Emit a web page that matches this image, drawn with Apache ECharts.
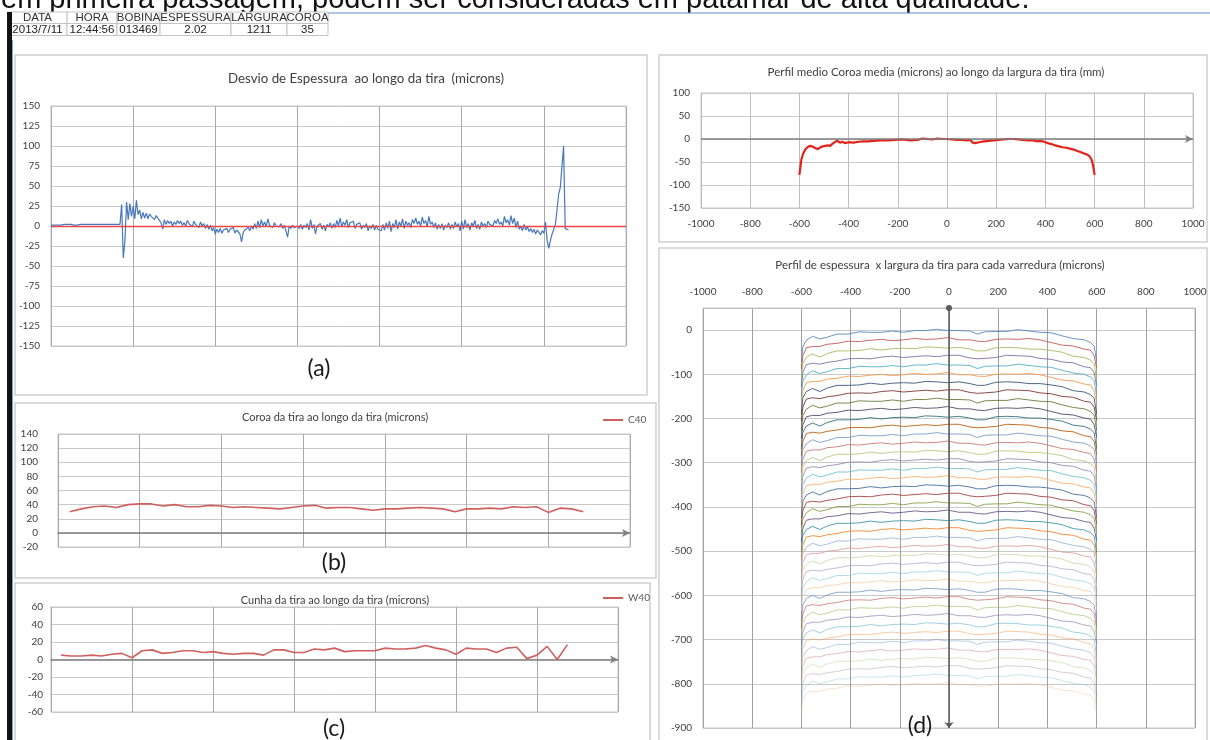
<!DOCTYPE html>
<html><head><meta charset="utf-8">
<script src="https://cdn.jsdelivr.net/npm/echarts@6/dist/echarts.min.js"></script>
<style>html,body{margin:0;padding:0;background:#fff;overflow:hidden}#c{width:1210px;height:740px}</style>
</head><body><div id="c"></div>
<script>
const topSentence = 'em primeira passagem, podem ser consideradas em patamar de alta qualidade.';
const headerLabels = ['DATA','HORA','BOBINA','ESPESSURA','LARGURA','COROA'];
const headerValues = ['2013/7/11','12:44:56','013469','2.02','1211','35'];

const titleA = 'Desvio de Espessura  ao longo da tira  (microns)';
const titleB = 'Coroa da tira ao longo da tira (microns)';
const titleC = 'Cunha da tira ao longo da tira (microns)';
const titleE = 'Perfil medio Coroa media (microns) ao longo da largura da tira (mm)';
const titleD = 'Perfil de espessura  x largura da tira para cada varredura (microns)';

// (a) thickness deviation along the strip
const aValues = [
1,1,1,1,1,1,1,2,2,2, 2,2,2,2,1,1,1,2,2,2, 2,2,2,2,2,2,2,2,2,2, 2,2,2,2,2,2,2,2,2,2, 2,2,2,
27,-40,-18,30,8,28,12,25,9,32,
14,20,9,17,10,16,9,15,12,14,
8,13,10,12,4,-4,8,2,7,3,
6,0,5,2,7,3,6,1,4,0,
7,3,5,-1,6,2,4,-2,5,0,
3,-3,2,-4,1,-6,-2,-10,-4,-8,
-3,-9,-5,-7,-3,-8,-4,-6,-2,-9,
-5,-7,-10,-20,-8,-5,-7,-2,-6,0,
-4,3,-3,6,-2,8,0,5,-1,9,
1,3,-2,4,0,2,-1,3,-3,1,
2,-14,0,-3,1,-2,-4,0,-3,2,
-4,1,-2,3,-5,8,-3,2,-10,0,
-2,3,-4,1,-6,2,-1,4,-3,3,
-2,7,0,10,-1,5,1,8,-2,4,
2,6,-3,2,0,4,-4,1,-2,3,
-6,0,-3,2,-5,1,-4,-2,-6,2,
-5,4,-3,6,-7,3,-2,8,-4,5,
0,9,-3,6,1,4,-2,8,3,10,
2,6,0,11,3,7,-1,12,2,5,
-2,4,-4,2,-3,3,-5,1,-2,4,
-4,2,-3,5,-1,3,-6,6,-4,8,
-2,3,-5,4,0,7,-3,2,-4,5,
0,3,-2,6,2,4,0,7,3,9,
2,5,0,12,4,8,1,13,3,10,
-2,6,-4,0,-6,2,-5,-1,-7,-3,
-8,-4,-10,-5,-8,-11,-6,-9,5,-18,
-28,-18,-10,-4,2,20,40,48,46,100,-3,-5,-5
];
const aCategoryCount = 351;

// (b) crown C40 along the strip
const bValues = [null,30,34,37,38,36,40,41,41,38,40,37,37,39,38,36,37,36,35,34,36,38,39,35,36,36,34,32,34,34,35,36,35,34,30,34,34,35,34,37,36,37,29,35,34,30];
const bCategoryCount = 50;

// (c) wedge W40 along the strip
const cValues = [null,5,4,4,5,4,6,7,2,10,11,7,8,10,10,8,9,7,6,7,7,5,11,11,8,8,12,11,13,9,10,10,10,13,12,12,13,16,13,11,6,13,12,12,8,13,14,1,5,15,0,17];
const cCategoryCount = 57;

// (e) mean crown profile across the width
const meanX = [-600,-592,-585,-575,-565,-555,-545,-535,-525,-515,-505,-495,-485,-475,-465,-455,-445,-435,-425,-415,-400,-380,-360,-340,-320,-300,-270,-240,-210,-180,-150,-120,-100,-80,-60,-40,-20,0,20,40,60,80,95,105,115,130,150,170,190,210,230,250,270,290,310,330,350,365,380,395,410,425,440,455,470,485,500,515,530,545,560,570,580,588,594,600];
const meanY = [-78,-45,-32,-22,-17,-15,-17,-20,-22,-18,-16,-15,-14,-15,-10,-6,-4,-8,-6,-9,-7,-8,-6,-5,-5,-4,-3,-3,-2,-1,-3,-2,1,0,-1,1,0,0,-1,-2,-2,-3,-2,-8,-9,-7,-5,-4,-3,-2,-1,0,0,-1,-2,-3,-3,-5,-4,-6,-9,-11,-14,-16,-18,-19,-21,-23,-26,-29,-32,-34,-38,-45,-58,-78];

// (d) thickness profile for each scan (plotted with a downward offset per scan)
const scanX = [-600,-594,-580,-555,-525,-495,-455,-410,-365,-320,-275,-230,-185,-140,-95,-50,-5,40,85,115,145,190,235,280,325,370,415,460,505,550,575,590,600];
const scanProfiles = [
[-72,-37,-23,-14,-20,-16,-9,-9,-4,-5,-5,-2,-5,-1,-1,2,-1,-1,-2,-9,-4,-3,-3,1,-2,-5,-6,-13,-19,-22,-28,-36,-70],
[-89,-58,-40,-37,-37,-32,-30,-25,-26,-23,-21,-24,-22,-19,-21,-20,-17,-22,-22,-25,-26,-21,-20,-21,-19,-22,-28,-34,-36,-43,-45,-58,-86],
[-113,-75,-61,-54,-61,-53,-47,-47,-46,-42,-45,-42,-41,-42,-38,-39,-41,-39,-43,-47,-47,-40,-39,-40,-43,-43,-46,-50,-59,-62,-68,-76,-112],
[-129,-96,-78,-75,-77,-73,-70,-65,-64,-65,-61,-59,-62,-60,-58,-60,-57,-57,-63,-65,-64,-62,-57,-58,-59,-64,-66,-72,-74,-83,-85,-96,-126],
[-150,-115,-101,-92,-98,-94,-87,-87,-82,-83,-83,-80,-83,-79,-79,-76,-79,-79,-80,-87,-82,-81,-81,-77,-80,-83,-84,-91,-97,-100,-106,-114,-148],
[-168,-137,-119,-116,-116,-111,-109,-104,-105,-102,-100,-103,-101,-98,-100,-99,-96,-101,-101,-104,-105,-100,-99,-100,-98,-101,-107,-113,-115,-122,-124,-137,-165],
[-191,-153,-139,-132,-139,-131,-125,-125,-124,-120,-123,-120,-119,-120,-116,-117,-119,-117,-121,-125,-125,-118,-117,-118,-121,-121,-124,-128,-137,-140,-146,-154,-190],
[-207,-174,-156,-153,-155,-151,-148,-143,-142,-143,-139,-137,-140,-138,-136,-138,-135,-135,-141,-143,-142,-140,-135,-136,-137,-142,-144,-150,-152,-161,-163,-174,-204],
[-228,-193,-179,-170,-176,-172,-165,-165,-160,-161,-161,-158,-161,-157,-157,-154,-157,-157,-158,-165,-160,-159,-159,-155,-158,-161,-162,-169,-175,-178,-184,-192,-226],
[-245,-214,-196,-193,-193,-188,-186,-181,-182,-179,-177,-180,-178,-175,-177,-176,-173,-178,-178,-181,-182,-177,-176,-177,-175,-178,-184,-190,-192,-199,-201,-214,-242],
[-269,-231,-217,-210,-217,-209,-203,-203,-202,-198,-201,-198,-197,-198,-194,-195,-197,-195,-199,-203,-203,-196,-195,-196,-199,-199,-202,-206,-215,-218,-224,-232,-268],
[-285,-252,-234,-231,-233,-229,-226,-221,-220,-221,-217,-215,-218,-216,-214,-216,-213,-213,-219,-221,-220,-218,-213,-214,-215,-220,-222,-228,-230,-239,-241,-252,-282],
[-306,-271,-257,-248,-254,-250,-243,-243,-238,-239,-239,-236,-239,-235,-235,-232,-235,-235,-236,-243,-238,-237,-237,-233,-236,-239,-240,-247,-253,-256,-262,-270,-304],
[-323,-292,-274,-271,-271,-266,-264,-259,-260,-257,-255,-258,-256,-253,-255,-254,-251,-256,-256,-259,-260,-255,-254,-255,-253,-256,-262,-268,-270,-277,-279,-292,-320],
[-347,-309,-295,-288,-295,-287,-281,-281,-280,-276,-279,-276,-275,-276,-272,-273,-275,-273,-277,-281,-281,-274,-273,-274,-277,-277,-280,-284,-293,-296,-302,-310,-346],
[-363,-330,-312,-309,-311,-307,-304,-299,-298,-299,-295,-293,-296,-294,-292,-294,-291,-291,-297,-299,-298,-296,-291,-292,-293,-298,-300,-306,-308,-317,-319,-330,-360],
[-384,-349,-335,-326,-332,-328,-321,-321,-316,-317,-317,-314,-317,-313,-313,-310,-313,-313,-314,-321,-316,-315,-315,-311,-314,-317,-318,-325,-331,-334,-340,-348,-382],
[-401,-370,-352,-349,-349,-344,-342,-337,-338,-335,-333,-336,-334,-331,-333,-332,-329,-334,-334,-337,-338,-333,-332,-333,-331,-334,-340,-346,-348,-355,-357,-370,-398],
[-425,-387,-373,-366,-373,-365,-359,-359,-358,-354,-357,-354,-353,-354,-350,-351,-353,-351,-355,-359,-359,-352,-351,-352,-355,-355,-358,-362,-371,-374,-380,-388,-424],
[-441,-408,-390,-387,-389,-385,-382,-377,-376,-377,-373,-371,-374,-372,-370,-372,-369,-369,-375,-377,-376,-374,-369,-370,-371,-376,-378,-384,-386,-395,-397,-408,-438],
[-462,-427,-413,-404,-410,-406,-399,-399,-394,-395,-395,-392,-395,-391,-391,-388,-391,-391,-392,-399,-394,-393,-393,-389,-392,-395,-396,-403,-409,-412,-418,-426,-460],
[-479,-448,-430,-427,-427,-422,-420,-415,-416,-413,-411,-414,-412,-409,-411,-410,-407,-412,-412,-415,-416,-411,-410,-411,-409,-412,-418,-424,-426,-433,-435,-448,-476],
[-503,-465,-451,-444,-451,-443,-437,-437,-436,-432,-435,-432,-431,-432,-428,-429,-431,-429,-433,-437,-437,-430,-429,-430,-433,-433,-436,-440,-449,-452,-458,-466,-502],
[-519,-486,-468,-465,-467,-463,-460,-455,-454,-455,-451,-449,-452,-450,-448,-450,-447,-447,-453,-455,-454,-452,-447,-448,-449,-454,-456,-462,-464,-473,-475,-486,-516],
[-540,-505,-491,-482,-488,-484,-477,-477,-472,-473,-473,-470,-473,-469,-469,-466,-469,-469,-470,-477,-472,-471,-471,-467,-470,-473,-474,-481,-487,-490,-496,-504,-538],
[-557,-526,-508,-505,-505,-500,-498,-493,-494,-491,-489,-492,-490,-487,-489,-488,-485,-490,-490,-493,-494,-489,-488,-489,-487,-490,-496,-502,-504,-511,-513,-526,-554],
[-581,-543,-529,-522,-529,-521,-515,-515,-514,-510,-513,-510,-509,-510,-506,-507,-509,-507,-511,-515,-515,-508,-507,-508,-511,-511,-514,-518,-527,-530,-536,-544,-580],
[-597,-564,-546,-543,-545,-541,-538,-533,-532,-533,-529,-527,-530,-528,-526,-528,-525,-525,-531,-533,-532,-530,-525,-526,-527,-532,-534,-540,-542,-551,-553,-564,-594],
[-618,-583,-569,-560,-566,-562,-555,-555,-550,-551,-551,-548,-551,-547,-547,-544,-547,-547,-548,-555,-550,-549,-549,-545,-548,-551,-552,-559,-565,-568,-574,-582,-616],
[-635,-604,-586,-583,-583,-578,-576,-571,-572,-569,-567,-570,-568,-565,-567,-566,-563,-568,-568,-571,-572,-567,-566,-567,-565,-568,-574,-580,-582,-589,-591,-604,-632],
[-659,-621,-607,-600,-607,-599,-593,-593,-592,-588,-591,-588,-587,-588,-584,-585,-587,-585,-589,-593,-593,-586,-585,-586,-589,-589,-592,-596,-605,-608,-614,-622,-658],
[-675,-642,-624,-621,-623,-619,-616,-611,-610,-611,-607,-605,-608,-606,-604,-606,-603,-603,-609,-611,-610,-608,-603,-604,-605,-610,-612,-618,-620,-629,-631,-642,-672],
[-696,-661,-647,-638,-644,-640,-633,-633,-628,-629,-629,-626,-629,-625,-625,-622,-625,-625,-626,-633,-628,-627,-627,-623,-626,-629,-630,-637,-643,-646,-652,-660,-694],
[-713,-682,-664,-661,-661,-656,-654,-649,-650,-647,-645,-648,-646,-643,-645,-644,-641,-646,-646,-649,-650,-645,-644,-645,-643,-646,-652,-658,-660,-667,-669,-682,-710],
[-737,-699,-685,-678,-685,-677,-671,-671,-670,-666,-669,-666,-665,-666,-662,-663,-665,-663,-667,-671,-671,-664,-663,-664,-667,-667,-670,-674,-683,-686,-692,-700,-736],
[-753,-720,-702,-699,-701,-697,-694,-689,-688,-689,-685,-683,-686,-684,-682,-684,-681,-681,-687,-689,-688,-686,-681,-682,-683,-688,-690,-696,-698,-707,-709,-720,-750],
[-774,-739,-725,-716,-722,-718,-711,-711,-706,-707,-707,-704,-707,-703,-703,-700,-703,-703,-704,-711,-706,-705,-705,-701,-704,-707,-708,-715,-721,-724,-730,-738,-772],
[-791,-760,-742,-739,-739,-734,-732,-727,-728,-725,-723,-726,-724,-721,-723,-722,-719,-724,-724,-727,-728,-723,-722,-723,-721,-724,-730,-736,-738,-745,-747,-760,-788],
[-815,-777,-763,-756,-763,-755,-749,-749,-748,-744,-747,-744,-743,-744,-740,-741,-743,-741,-745,-749,-749,-742,-741,-742,-745,-745,-748,-752,-761,-764,-770,-778,-814],
[-831,-798,-780,-777,-779,-775,-772,-767,-766,-767,-763,-761,-764,-762,-760,-762,-759,-759,-765,-767,-766,-764,-759,-760,-761,-766,-768,-774,-776,-785,-787,-798,-828],
[-852,-817,-803,-794,-800,-796,-789,-789,-784,-785,-785,-782,-785,-781,-781,-778,-781,-781,-782,-789,-784,-783,-783,-779,-782,-785,-786,-793,-799,-802,-808,-816,-850],
[-869,-838,-820,-817,-817,-812,-810,-805,-806,-803,-801,-804,-802,-799,-801,-800,-797,-802,-802,-805,-806,-801,-800,-801,-799,-802,-808,-814,-816,-823,-825,-838,-866]
];

// ---------- styles ----------
const scanColors = ['#4F81BD','#C0504D','#9BBB59','#8064A2','#4BACC6','#F79646','#2C4D75','#772C2A','#5F7530','#4D3B62','#276A7C','#B65708','#729ACA','#CD7371','#AFC97A','#9983B5','#6FBDD1','#F9AB6B','#3A679C','#9F3B38','#7E9D40','#664F83','#358EA6','#F38022','#95B3D7','#D99694','#C3D69B','#B2A1C7','#93CDDD','#FAC090','#4F81BD','#C0504D','#9BBB59','#8064A2','#4BACC6','#F79646','#729ACA','#CD7371','#AFC97A','#9983B5','#6FBDD1','#F9AB6B'];
const FONT = 'Lato, "Open Sans", sans-serif';
const labelStyle = {fontSize:10, color:'#404040', fontFamily:FONT};
const hGrid = {show:true, lineStyle:{color:'#c9c9c9', width:1}};
const vGridColor = '#a9a9a9';
const plainNum = v => String(v);

const chart = echarts.init(document.getElementById('c'), null, {renderer:'canvas'});

const cats = n => Array.from({length:n}, (_, i) => String(i));

function catX(grid, n, interval, zeroAxis){
  return {gridIndex:grid, type:'category', data:cats(n), boundaryGap:false,
    axisLine: zeroAxis ? {show:true, onZero:true, symbol:['none','arrow'], symbolSize:[6,8], lineStyle:{color:'#7f7f7f', width:1.5}} : {show:false},
    axisTick:{show:false}, axisLabel:{show:false},
    splitLine:{show:true, interval:interval, lineStyle:{color:vGridColor, width:1}}};
}
function valY(grid, min, max, interval, margin, formatter){
  return {gridIndex:grid, type:'value', min, max, interval,
    axisLine:{show:false}, axisTick:{show:false},
    axisLabel:Object.assign({margin, formatter: formatter || plainNum}, labelStyle), splitLine:hGrid};
}

const series = [];
series.push({type:'line', name:'desvio', xAxisIndex:0, yAxisIndex:0, data:aValues, symbol:'none',
  lineStyle:{color:'#4777bd', width:1.2}, z:3,
  markLine:{silent:true, symbol:'none', label:{show:false}, lineStyle:{color:'#ea4545', type:'solid', width:1.3}, data:[{yAxis:0}]}});
series.push({type:'line', name:'C40', xAxisIndex:1, yAxisIndex:1, data:bValues, symbol:'none', itemStyle:{color:'#d0605e'}, lineStyle:{color:'#d0605e', width:1.6}});
series.push({type:'line', name:'W40', xAxisIndex:2, yAxisIndex:2, data:cValues, symbol:'none', itemStyle:{color:'#d0605e'}, lineStyle:{color:'#d0605e', width:1.6}});
series.push({type:'line', name:'media', xAxisIndex:3, yAxisIndex:3, data:meanX.map((x,i)=>[x, meanY[i]]), symbol:'none',
  lineStyle:{color:'#e2231a', width:2.2}, z:4,
  markLine:{silent:true, symbol:['none','arrow'], symbolSize:[6,8], label:{show:false}, lineStyle:{color:'#7f7f7f', type:'solid', width:1.5}, data:[{yAxis:0}]}});
scanProfiles.forEach((row, k) => {
  const op = k < 24 ? 0.85 : 0.85 - (k - 23) * 0.028;
  const s = {type:'line', name:'scan'+k, xAxisIndex:4, yAxisIndex:4, data:scanX.map((x,j)=>[x,row[j]]), symbol:'none',
    lineStyle:{color:scanColors[k % scanColors.length], width:1, opacity:op}};
  if (k === 0) s.markLine = {silent:true, symbol:['arrow','circle'], symbolSize:[7,6], label:{show:false}, lineStyle:{color:'#5a5a5a', type:'solid', width:1.5, opacity:1}, data:[{xAxis:0}]};
  series.push(s);
});

// ---------- graphic layout ----------
const g = [];
g.push({type:'text', x:1, y:0, z:-6, style:{text:topSentence, font:'29px "Liberation Sans", Arial, sans-serif', fill:'#111', verticalAlign:'middle', textVerticalAlign:'middle'}});
g.push({type:'rect', shape:{x:0, y:13, width:1210, height:727}, z:-5, style:{fill:'#ffffff'}});
g.push({type:'line', shape:{x1:328, y1:13, x2:1210, y2:13}, z:-4, style:{stroke:'#5b8fd6', lineWidth:1.2}});
// panel frames
[[15,55,632,340],[15,403,641,175],[15,583,635,165],[659,55,548,187],[659,248,548,500]].forEach(r=>{
  g.push({type:'rect', shape:{x:r[0], y:r[1], width:r[2], height:r[3]}, z:-4, style:{fill:'#ffffff', stroke:'#cfcfcf', lineWidth:1.5}});
});
// table
const colX = [8,67,117,160,231,287,328];
const rowY = [12,23.5,35.5];
for (let r=0;r<2;r++){
  for (let c=0;c<6;c++){
    g.push({type:'rect', shape:{x:colX[c], y:rowY[r], width:colX[c+1]-colX[c], height:rowY[r+1]-rowY[r]}, z:-3, style:{fill:'#ffffff', stroke:'#c4c4c4', lineWidth:1}});
    const txt = r===0 ? headerLabels[c] : headerValues[c];
    g.push({type:'text', x:(colX[c]+colX[c+1])/2, y:(rowY[r]+rowY[r+1])/2+0.5, z:-2, style:{text:txt, font:'11.5px "Liberation Sans", Arial, sans-serif', fill: r===0 ? '#333' : '#222', align:'center', textAlign:'center', verticalAlign:'middle', textVerticalAlign:'middle'}});
  }
}
// left dark edge
g.push({type:'rect', shape:{x:7, y:12, width:5, height:728}, z:20, style:{fill:'#121212'}});
g.push({type:'line', shape:{x1:12.5, y1:40, x2:12.5, y2:740}, z:20, style:{stroke:'#7f9fd0', lineWidth:1}});
// titles
function tText(t, x, y, size, color){
  g.push({type:'text', x, y, z:20, style:{text:t, font:size+'px '+FONT, fill:color||'#404040', align:'center', textAlign:'center', verticalAlign:'middle', textVerticalAlign:'middle'}});
}
tText(titleA, 366, 79, 13.3);
tText(titleB, 335, 417, 11);
tText(titleC, 335, 600, 11);
tText(titleE, 936, 72, 11.5);
tText(titleD, 940, 265, 11.5);
tText('(a)', 319, 369, 23, '#1a1a1a');
tText('(b)', 334, 563, 23, '#1a1a1a');
tText('(c)', 334, 729, 23, '#1a1a1a');
tText('(d)', 920, 726, 23, '#1a1a1a');

const option = {
  animation:false,
  backgroundColor:'#ffffff',
  graphic:{elements:g},
  legend:[
    {data:['C40'], left:598, top:410, icon:'rect', itemWidth:20, itemHeight:2, itemGap:4, selectedMode:false, textStyle:{fontSize:10, color:'#595959', fontFamily:FONT}},
    {data:['W40'], left:598, top:588, icon:'rect', itemWidth:20, itemHeight:2, itemGap:4, selectedMode:false, textStyle:{fontSize:10, color:'#595959', fontFamily:FONT}}
  ],
  grid:[
    {left:51, top:106, width:575, height:240, show:true, borderColor:'#c4c4c4', borderWidth:1, backgroundColor:'transparent', outerBoundsMode:'none'},
    {left:58, top:434, width:572, height:113, show:true, borderColor:'#c4c4c4', borderWidth:1, backgroundColor:'transparent', outerBoundsMode:'none'},
    {left:51, top:607, width:567, height:105, show:true, borderColor:'#c4c4c4', borderWidth:1, backgroundColor:'transparent', outerBoundsMode:'none'},
    {left:701, top:93, width:492, height:115, show:true, borderColor:'#c4c4c4', borderWidth:1, backgroundColor:'transparent', outerBoundsMode:'none'},
    {left:703, top:308, width:492, height:420, show:true, borderColor:'#c4c4c4', borderWidth:1, backgroundColor:'transparent', outerBoundsMode:'none'}
  ],
  xAxis:[
    catX(0, aCategoryCount, 49, false),
    catX(1, bCategoryCount, 6, true),
    catX(2, cCategoryCount, 7, true),
    {gridIndex:3, type:'value', min:-1000, max:1000, interval:200, axisLine:{show:false, onZero:false}, axisTick:{show:false},
      axisLabel:Object.assign({margin:11, formatter:plainNum}, labelStyle), splitLine:{show:true, lineStyle:{color:'#bdbdbd'}}},
    {gridIndex:4, type:'value', position:'top', min:-1000, max:1000, interval:200, axisLine:{show:true, onZero:false, lineStyle:{color:'#bdbdbd'}}, axisTick:{show:false},
      axisLabel:Object.assign({margin:11, formatter:plainNum}, labelStyle), splitLine:{show:true, lineStyle:{color:'#a0a0a0'}}}
  ],
  yAxis:[
    valY(0, -150, 150, 25, 11),
    valY(1, -20, 140, 20, 20),
    valY(2, -60, 60, 20, 8),
    valY(3, -150, 100, 50, 11),
    valY(4, -900, 50, 100, 11, v => v > 0 ? '' : String(v))
  ],
  series
};
chart.setOption(option);
</script>
</body></html>
